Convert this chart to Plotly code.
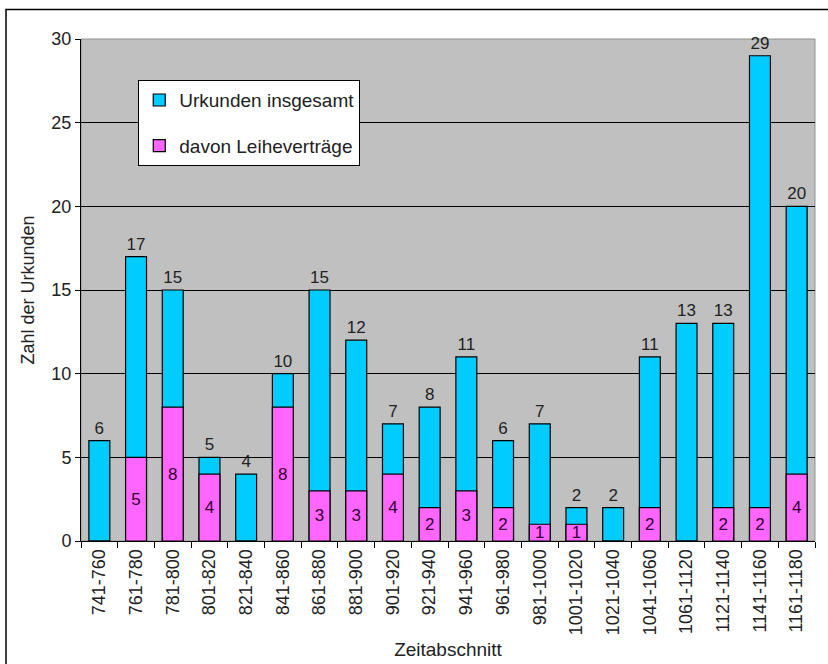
import plotly.graph_objects as go

categories = ["741-760", "761-780", "781-800", "801-820", "821-840", "841-860",
              "861-880", "881-900", "901-920", "921-940", "941-960", "961-980",
              "981-1000", "1001-1020", "1021-1040", "1041-1060", "1061-1120",
              "1121-1140", "1141-1160", "1161-1180"]
total = [6, 17, 15, 5, 4, 10, 15, 12, 7, 8, 11, 6, 7, 2, 2, 11, 13, 13, 29, 20]
leihe = [0, 5, 8, 4, 0, 8, 3, 3, 4, 2, 3, 2, 1, 1, 0, 2, 0, 2, 2, 4]

FONT = "Liberation Sans, Arial, sans-serif"
TXT = "#222222"

fig = go.Figure()
fig.add_trace(go.Bar(
    x=categories, y=total, name="Urkunden insgesamt",
    marker=dict(color="#00CCFF", line=dict(color="black", width=1.2)),
    text=[str(v) for v in total], textposition="outside", textangle=0,
    textfont=dict(size=17, color=TXT, family=FONT),
    cliponaxis=False, legendgroup="a",
))
fig.add_trace(go.Bar(
    x=categories, y=leihe, name="davon Leiheverträge",
    marker=dict(color="#FF66FF", line=dict(color="black", width=1.2)),
    text=[str(v) if v > 0 else "" for v in leihe], textposition="inside",
    insidetextanchor="middle", constraintext="none", textangle=0,
    textfont=dict(size=17, color="#330033", family=FONT),
    legendgroup="b",
))

fig.update_layout(
    width=828, height=664,
    barmode="overlay", bargap=0.43,
    paper_bgcolor="white", plot_bgcolor="#C0C0C0",
    margin=dict(l=81, r=13, t=39, b=123, autoexpand=False),
    font=dict(family=FONT, size=17, color=TXT),
    showlegend=True,
    legend=dict(
        x=0.078, y=0.918, xanchor="left", yanchor="top",
        bgcolor="white", bordercolor="black", borderwidth=1,
        font=dict(size=19, color=TXT, family=FONT),
        tracegroupgap=18, itemwidth=30,
    ),
    xaxis=dict(
        type="category", tickangle=-90, tickson="boundaries",
        ticks="outside", ticklen=6, tickcolor="black",
        showline=True, linecolor="black", linewidth=1,
        showgrid=False, automargin=False,
        tickfont=dict(size=18, family=FONT, color=TXT),
        title=dict(text="Zeitabschnitt", font=dict(size=19, family=FONT, color=TXT), standoff=8),
    ),
    yaxis=dict(
        range=[0, 30], dtick=5, ticks="outside", ticklen=5, tickcolor="black",
        showline=True, linecolor="black", linewidth=1,
        showgrid=True, gridcolor="black", gridwidth=1,
        zeroline=False, automargin=False,
        tickfont=dict(size=18, family=FONT, color=TXT),
        title=dict(text="Zahl der Urkunden", font=dict(size=18, family=FONT, color=TXT), standoff=12),
    ),
    shapes=[
        dict(type="rect", xref="paper", yref="paper", x0=0, x1=1, y0=0, y1=1,
             line=dict(color="#909090", width=1), layer="below"),
        dict(type="rect", xref="paper", yref="paper",
             x0=-75 / 734, x1=1 + 40 / 734, y0=-160 / 502, y1=1 + 29.5 / 502,
             line=dict(color="black", width=1.5)),
    ],
)

fig.write_html("out.html")
